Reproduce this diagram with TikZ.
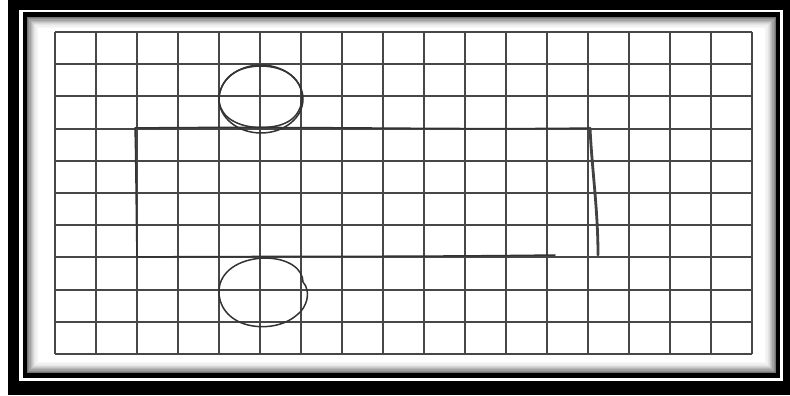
\documentclass[tikz,border=0pt]{standalone}
\begin{document}
\begin{tikzpicture}[x=1pt,y=-1pt,
  gridline/.style={draw=black!72,line width=1.9pt},
  pencil/.style={draw=black!80,line width=1.5pt,line cap=round,line join=round}]
\useasboundingbox (0,0) rectangle (790,396);
\fill[white] (0,0) rectangle (790,396);
% frame
\fill[black] (8,0) rectangle (790,395);
\fill[white] (19,10) rectangle (783,381);
\fill[black] (23,12.5) rectangle (780,378);
\foreach \i/\c in {0/45,1/55,2/64,3/72,4/79,5/85,6/90,7/94,8/97,9/100}{
  \fill[fill=white!\c!black] ({27+1.2*\i},{17+1.2*\i}) rectangle ({776-1.2*\i},{373-1.2*\i});
}
% grid
\foreach \k in {0,...,17}{
  \draw[gridline] ({55+41*\k},32) -- ({55+41*\k},354);
}
\foreach \k in {0,...,10}{
  \draw[gridline] (55,{32+32.2*\k}) -- (752,{32+32.2*\k});
}
% hand drawn rectangle
\draw[pencil] (137,257) .. controls (136,200) and (136,160) .. (135,128)
  .. controls (300,126) and (450,130) .. (590,128);
\draw[pencil,line width=2.8pt,draw=black!74] (590,128) .. controls (592,170) and (598,210) .. (598,255);
\draw[pencil] (555,255) .. controls (400,257) and (250,256) .. (137,257);
% circles
\draw[pencil] (261,99) ellipse [x radius=42,y radius=34];
\draw[pencil] (252,127) .. controls (230,124) and (218,112) .. (219,97)
  .. controls (222,75) and (240,66) .. (262,66)
  .. controls (288,67) and (302,80) .. (302,98)
  .. controls (301,118) and (285,130) .. (252,127);
\draw[pencil] (264,258) .. controls (290,258) and (303,270) .. (303,282)
  .. controls (312,292) and (306,308) .. (298,314)
  .. controls (285,326) and (265,329) .. (248,325)
  .. controls (228,320) and (218,305) .. (219,290)
  .. controls (220,272) and (238,259) .. (264,258);
\end{tikzpicture}
\end{document}
